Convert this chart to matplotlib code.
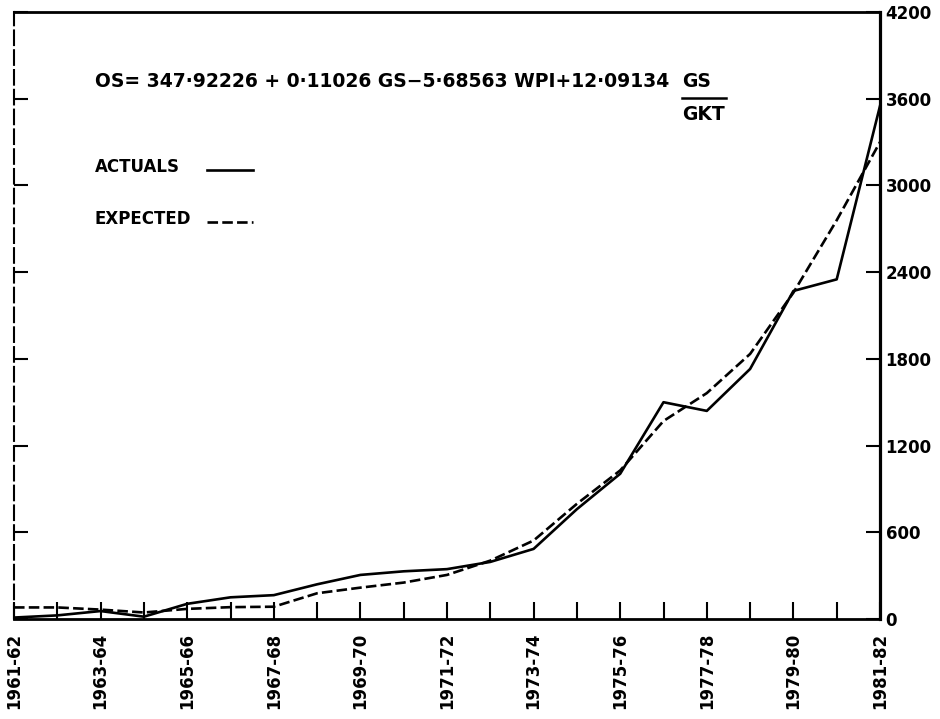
import matplotlib

matplotlib.use("Agg")
import matplotlib.pyplot as plt
from matplotlib.lines import Line2D
import numpy as np

years = [
    "1961-62", "1962-63", "1963-64", "1964-65", "1965-66", "1966-67", "1967-68",
    "1968-69", "1969-70", "1970-71", "1971-72", "1972-73", "1973-74", "1974-75",
    "1975-76", "1976-77", "1977-78", "1978-79", "1979-80", "1980-81", "1981-82",
]
actuals = [10, 25, 55, 16, 105, 150, 165, 240, 305, 330, 345,
           395, 485, 760, 1005, 1500, 1440, 1730, 2270, 2350, 3550]
expected = [80, 80, 65, 45, 70, 82, 85, 178, 217, 252, 305,
            404, 543, 797, 1028, 1370, 1563, 1834, 2258, 2759, 3300]
y_ticks = [0, 600, 1200, 1800, 2400, 3000, 3600, 4200]

equation = "OS= 347·92226 + 0·11026 GS−5·68563 WPI+12·09134"

W, H = 940, 719
fig = plt.figure(figsize=(W / 100, H / 100), dpi=100)


def fx(px):
    return px / W


def fy(py):  # py measured from the top of the picture
    return 1 - py / H


ax = fig.add_axes([fx(14), fy(619), fx(880 - 14), (619 - 12) / H])

x = np.arange(len(years))
ax.plot(x, actuals, "-", color="black", linewidth=1.9)
ax.plot(x, expected, "--", color="black", linewidth=1.9, dashes=(4, 1.6))

ax.set_xlim(0, len(years) - 1)
ax.set_ylim(0, 4200)

ax.set_xticks(x)
ax.set_xticklabels([y if i % 2 == 0 else "" for i, y in enumerate(years)],
                   rotation=90, fontsize=12, fontweight="bold")
ax.tick_params(axis="x", direction="in", length=12, width=1.5, pad=10)

ax.set_yticks(y_ticks)
ax.set_yticklabels([str(v) for v in y_ticks], fontsize=12, fontweight="bold")
ax.tick_params(axis="y", direction="in", length=10, width=1.5,
               left=True, right=True, labelleft=False, labelright=True, pad=4)

for side, lw in [("top", 2.0), ("right", 2.3), ("bottom", 2.0)]:
    ax.spines[side].set_linewidth(lw)
# the left edge is only faintly drawn in the original
ax.spines["left"].set_linewidth(1.5)
ax.spines["left"].set_linestyle((0, (7, 2.5)))

# regression equation with GS/GKT fraction
eq = fig.text(fx(95), fy(87), equation, fontsize=13.5, fontweight="bold",
              va="baseline", ha="left")
fig.canvas.draw()
bb = eq.get_window_extent()
gx = bb.x1 + 13
fig.text(gx / W, fy(87), "GS", fontsize=13.5, fontweight="bold",
         va="baseline", ha="left")
fig.text(gx / W, fy(120), "GKT", fontsize=13.5, fontweight="bold",
         va="baseline", ha="left")
fig.add_artist(Line2D([gx / W, (gx + 44) / W], [fy(98), fy(98)],
                      color="black", linewidth=1.8))

# legend written the way the original sketch does it
fig.text(fx(95), fy(172), "ACTUALS", fontsize=12, fontweight="bold",
         va="baseline", ha="left")
fig.text(fx(95), fy(224), "EXPECTED", fontsize=12, fontweight="bold",
         va="baseline", ha="left")
fig.add_artist(Line2D([fx(207), fx(253)], [fy(170), fy(170)],
                      color="black", linewidth=1.9))
fig.add_artist(Line2D([fx(207), fx(253)], [fy(222), fy(222)],
                      color="black", linewidth=1.9, linestyle="--",
                      dashes=(4, 1.6)))

fig.savefig("out.png", dpi=100)
plt.close(fig)
